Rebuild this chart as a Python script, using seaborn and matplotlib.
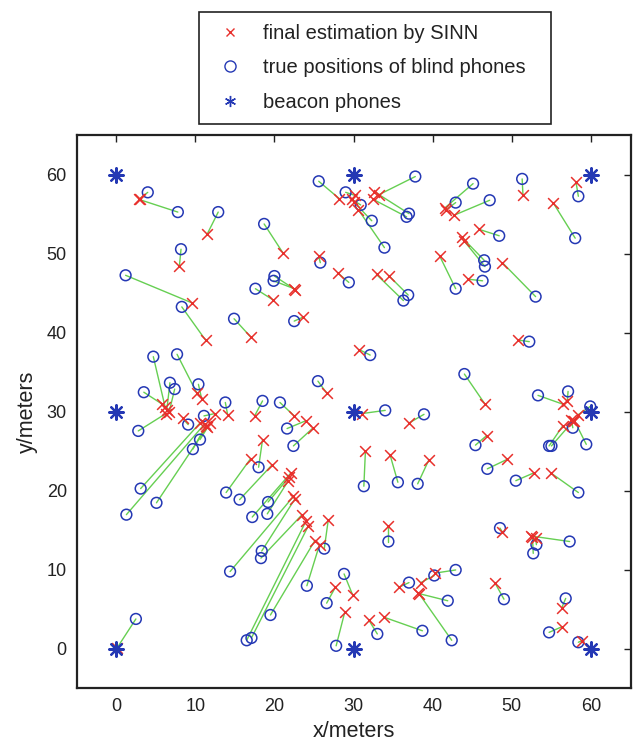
import matplotlib
matplotlib.use("Agg")
import matplotlib.pyplot as plt
from matplotlib.lines import Line2D
import numpy as np
import pandas as pd
import seaborn as sns

# Final SINN position estimates of the blind phones (metres)
est_x = [3.0, 2.9, 11.5, 8.0, 9.6, 11.3, 19.8, 17.0, 21.1, 28.2,
         30.2, 29.8, 30.0, 30.6, 33.2, 32.6, 32.5, 25.6, 28.0, 32.9,
         34.5, 22.6, 22.5, 23.6, 41.5, 41.7, 42.7, 51.4, 58.1, 55.2,
         45.9, 43.7, 44.0, 40.9, 44.5, 48.8, 6.2, 10.2, 10.8, 6.4,
         6.7, 5.8, 6.3, 8.4, 14.1, 12.5, 10.6, 11.2, 11.5, 11.9,
         11.3, 17.5, 18.5, 17.0, 30.7, 26.6, 22.5, 24.0, 24.9, 31.1,
         37.0, 19.7, 31.5, 34.6, 39.5, 22.1, 21.9, 21.7, 22.4, 22.6,
         23.5, 24.0, 24.3, 26.8, 25.1, 25.7, 27.7, 29.9, 28.9, 31.9,
         33.9, 34.4, 35.7, 38.5, 40.3, 38.3, 38.2, 48.8, 52.4, 52.6,
         53.0, 47.9, 56.3, 56.3, 58.9, 0.1, 50.8, 46.6, 56.4, 57.0,
         58.3, 57.9, 57.7, 56.4, 57.5, 46.8, 49.4, 52.8, 54.9]
est_y = [57.0, 56.9, 52.5, 48.5, 43.8, 39.1, 44.2, 39.5, 50.1, 57.0,
         57.4, 56.9, 56.6, 55.6, 57.5, 57.9, 56.9, 49.7, 47.6, 47.4,
         47.2, 45.5, 45.6, 42.0, 55.8, 55.6, 54.9, 57.5, 59.1, 56.5,
         53.1, 52.1, 51.6, 49.7, 46.8, 48.9, 30.6, 32.4, 31.7, 30.2,
         30.0, 31.0, 29.8, 29.2, 29.6, 29.8, 28.6, 28.5, 28.1, 28.6,
         28.2, 29.5, 26.5, 24.1, 37.9, 32.4, 29.5, 28.9, 28.0, 29.8,
         28.6, 23.3, 25.1, 24.6, 23.9, 22.3, 21.8, 21.2, 19.3, 19.0,
         17.0, 16.2, 15.6, 16.3, 13.7, 13.2, 7.8, 6.8, 4.7, 3.7,
         4.0, 15.6, 7.8, 8.4, 9.6, 7.0, 7.1, 14.8, 14.3, 14.2,
         14.0, 8.3, 5.2, 2.8, 1.05, 0.1, 39.1, 31.0, 31.0, 31.4,
         29.6, 28.9, 28.8, 28.2, 29.0, 27.0, 24.0, 22.3, 22.3]

# True positions of the blind phones (metres)
true_x = [4.0, 7.8, 12.9, 8.2, 1.2, 8.3, 17.6, 14.9, 18.7, 25.6,
          29.0, 30.9, 32.3, 33.9, 37.8, 37.0, 36.7, 25.8, 29.4, 36.3,
          36.9, 20.0, 19.9, 22.5, 45.1, 42.9, 47.2, 51.3, 58.4, 58.0,
          48.4, 46.5, 46.6, 42.9, 46.3, 53.0, 4.7, 7.7, 10.4, 6.8,
          7.4, 3.5, 2.8, 9.1, 13.8, 11.1, 3.1, 1.3, 5.1, 10.6,
          9.7, 18.5, 18.0, 13.9, 32.1, 25.5, 20.7, 21.6, 22.4, 34.0,
          38.9, 15.6, 31.3, 35.6, 38.1, 17.2, 19.2, 19.1, 14.4, 18.4,
          18.3, 16.5, 17.1, 26.3, 19.5, 24.1, 26.6, 28.8, 27.8, 33.0,
          38.7, 34.4, 37.0, 40.2, 42.9, 41.9, 42.4, 48.5, 57.3, 52.7,
          53.1, 49.0, 56.8, 54.7, 58.4, 2.5, 52.2, 44.0, 53.3, 57.1,
          59.9, 59.4, 55.0, 54.7, 57.7, 45.4, 46.9, 50.5, 58.4]
true_y = [57.8, 55.3, 55.3, 50.6, 47.3, 43.3, 45.6, 41.8, 53.8, 59.2,
          57.8, 56.2, 54.2, 50.8, 59.8, 55.1, 54.7, 48.9, 46.4, 44.1,
          44.8, 47.2, 46.6, 41.5, 58.9, 56.5, 56.8, 59.5, 57.3, 52.0,
          52.3, 49.2, 48.4, 45.6, 46.6, 44.6, 37.0, 37.3, 33.5, 33.7,
          32.9, 32.5, 27.6, 28.4, 31.2, 29.5, 20.3, 17.0, 18.5, 26.5,
          25.3, 31.4, 23.0, 19.8, 37.2, 33.9, 31.2, 27.9, 25.7, 30.2,
          29.7, 18.9, 20.6, 21.1, 20.9, 16.7, 18.6, 17.1, 9.8, 12.4,
          11.5, 1.1, 1.4, 12.7, 4.3, 8.0, 5.8, 9.5, 0.4, 1.9,
          2.3, 13.6, 8.4, 9.3, 10.0, 6.1, 1.1, 15.3, 13.6, 12.1,
          13.2, 6.3, 6.4, 2.1, 0.85, 3.8, 38.9, 34.8, 32.1, 32.6,
          30.7, 25.9, 25.7, 25.7, 28.0, 25.8, 22.8, 21.3, 19.8]

# Beacon phones on a 30 m grid
beacon_x = [0, 0, 0, 30, 30, 30, 60, 60, 60]
beacon_y = [0, 30, 60, 0, 30, 60, 0, 30, 60]

ticks = [0, 10, 20, 30, 40, 50, 60]

RED = "#e8302c"
BLUE = "#2438b4"
GREEN = "#66cf52"
INK = "#222222"

sns.set_theme(style="white")
plt.rcParams["font.family"] = ["Liberation Sans", "DejaVu Sans"]

fig = plt.figure(figsize=(6.33, 7.43), dpi=100)
ax = fig.add_axes([0.1209, 0.0734, 0.8753, 0.7443])

# error segments from each estimate to its true position
for ex, ey, tx, ty in zip(est_x, est_y, true_x, true_y):
    ax.plot([ex, tx], [ey, ty], color=GREEN, lw=1.0, zorder=1)

est_df = pd.DataFrame({"x": est_x, "y": est_y})
true_df = pd.DataFrame({"x": true_x, "y": true_y})
beacon_df = pd.DataFrame({"x": beacon_x, "y": beacon_y})

sns.scatterplot(data=true_df, x="x", y="y", ax=ax, marker="o", s=60,
                facecolor="none", edgecolor=BLUE, linewidth=1.1, zorder=2)
sns.scatterplot(data=est_df, x="x", y="y", ax=ax, marker="x", s=60,
                color=RED, linewidth=1.1, zorder=3)
sns.scatterplot(data=beacon_df, x="x", y="y", ax=ax, marker=(8, 2, 0), s=110,
                color=BLUE, edgecolor=BLUE, linewidth=1.6, zorder=4)

ax.set_xlim(-5, 65)
ax.set_ylim(-5, 65)
ax.set_xticks(ticks)
ax.set_yticks(ticks)
ax.set_xticklabels([str(t) for t in ticks])
ax.set_yticklabels([str(t) for t in ticks])
ax.tick_params(direction="in", length=5, width=1, colors=INK,
               labelsize=13, top=True, right=True, pad=7)
for sp in ax.spines.values():
    sp.set_color(INK)
    sp.set_linewidth(1.6)
    sp.set_visible(True)

ax.set_xlabel("x/meters", fontsize=15.5, color=INK, labelpad=4)
ax.set_ylabel("y/meters", fontsize=15.5, color=INK, labelpad=6)

handles = [
    Line2D([], [], ls="none", marker="x", color=RED, markersize=6, mew=1.0),
    Line2D([], [], ls="none", marker="o", mfc="none", mec=BLUE, markersize=8, mew=1.0),
    Line2D([], [], ls="none", marker=(6, 2, 0), color=BLUE, markersize=8, mew=1.0),
]
labels = ["final estimation by SINN", "true positions of blind phones", "beacon phones"]
leg_box = (199 / 633, 1 - 116 / 743, 352 / 633, 104 / 743)
leg = fig.legend(handles, labels, loc="upper left", bbox_to_anchor=leg_box,
                 mode="expand", fontsize=14.5, frameon=True, fancybox=False,
                 edgecolor=INK, framealpha=1, borderpad=0.6, labelspacing=0.76,
                 handlelength=1.9, handletextpad=0.7, borderaxespad=0)
leg.get_frame().set_linewidth(1.2)
for t in leg.get_texts():
    t.set_color(INK)

fig.savefig("out.png", dpi=100)
